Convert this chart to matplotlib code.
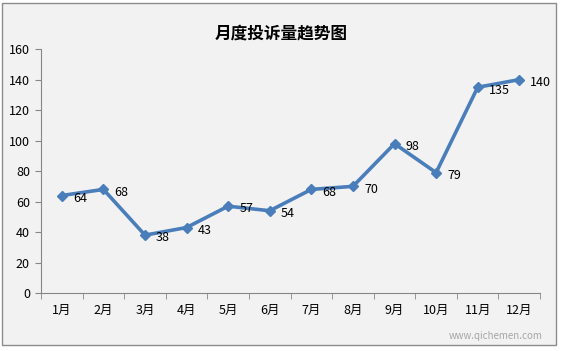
import matplotlib.pyplot as plt
from matplotlib.patches import Rectangle

plt.rcParams['font.family'] = ['Noto Sans CJK SC', 'DejaVu Sans']

months = ["1月", "2月", "3月", "4月", "5月", "6月", "7月", "8月", "9月", "10月", "11月", "12月"]
complaints = [64, 68, 38, 43, 57, 54, 68, 70, 98, 79, 135, 140]
title = "月度投诉量趋势图"
watermark = "www.qichemen.com"

fig = plt.figure(figsize=(5.62, 3.51), dpi=100)
fig.patch.set_facecolor("white")
fig.patches.append(Rectangle((0.004, 0.017), 0.986, 0.975, transform=fig.transFigure,
                             facecolor="#f2f2f2", edgecolor="#8c8c8c", linewidth=1.0, zorder=-10))

ax = fig.add_axes([0.073, 0.165, 0.888, 0.695])
ax.set_facecolor("none")

x = list(range(len(months)))
ax.plot(x, complaints, color="#4a7ebb", linewidth=2.6, marker="D", markersize=5.5,
        markerfacecolor="#4a7ebb", markeredgecolor="#4a7ebb")
for xi, v in zip(x, complaints):
    ax.annotate(str(v), (xi, v), xytext=(8, -2), textcoords="offset points",
                ha="left", va="center", fontsize=9, color="#000000")

ax.set_xlim(-0.5, len(months) - 0.5)
ax.set_ylim(0, 160)
ax.set_yticks(range(0, 161, 20))
ax.set_xticks(x)
ax.set_xticklabels(months)
ax.set_xticks([i - 0.5 for i in range(len(months) + 1)], minor=True)
ax.tick_params(axis="x", which="major", length=0, pad=8, labelsize=9)
ax.tick_params(axis="x", which="minor", length=4, color="#868686")
ax.tick_params(axis="y", length=4, color="#868686", labelsize=9, pad=4)

for s in ["top", "right"]:
    ax.spines[s].set_visible(False)
for s in ["left", "bottom"]:
    ax.spines[s].set_color("#868686")

fig.text(0.5, 0.905, title, ha="center", va="center", fontsize=12, fontweight="bold")
fig.text(0.965, 0.042, watermark, ha="right", va="center", fontsize=7, color="#a6a6a6")

fig.savefig("out.png", dpi=100, facecolor=fig.get_facecolor())
